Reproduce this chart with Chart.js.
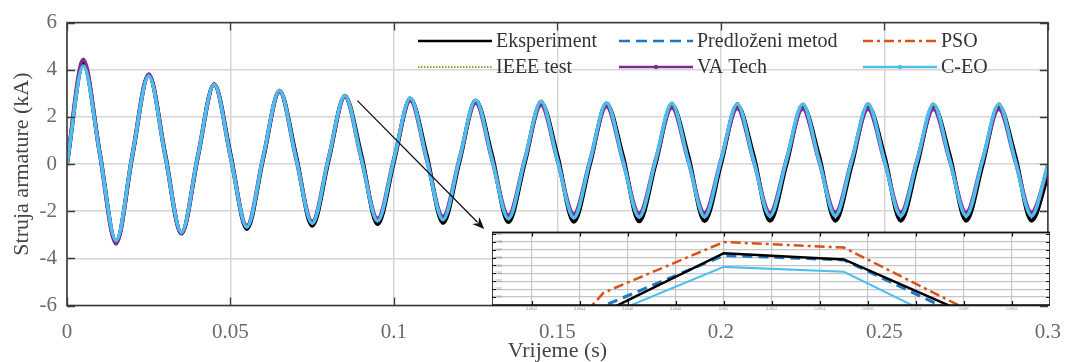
<!DOCTYPE html>
<html>
<head>
<meta charset="utf-8">
<script src="https://cdn.jsdelivr.net/npm/chart.js@4/dist/chart.umd.min.js"></script>
<style>
  html, body { margin: 0; padding: 0; background: #fff; }
  #wrap { position: relative; width: 1075px; height: 362px; }
  #main { position: absolute; left: 0; top: 0; }
  #inset { position: absolute; left: 492px; top: 227px; }
</style>
</head>
<body>
<div id="wrap">
  <canvas id="main" width="1075" height="362"></canvas>
  <canvas id="inset" width="558" height="87"></canvas>
</div>
<script>
// vrijeme (s) - uzorci na svakih cetvrt periode
const vrijeme = [0, 0.005, 0.01, 0.015, 0.02, 0.025, 0.03, 0.035, 0.04, 0.045, 0.05, 0.055, 0.06, 0.065, 0.07, 0.075,
  0.08, 0.085, 0.09, 0.095, 0.1, 0.105, 0.11, 0.115, 0.12, 0.125, 0.13, 0.135, 0.14, 0.145, 0.15, 0.155, 0.16, 0.165,
  0.17, 0.175, 0.18, 0.185, 0.19, 0.195, 0.2, 0.205, 0.21, 0.215, 0.22, 0.225, 0.23, 0.235, 0.24, 0.245, 0.25, 0.255,
  0.26, 0.265, 0.27, 0.275, 0.28, 0.285, 0.29, 0.295, 0.3];

// struja armature (kA)
const eksperiment = [0, 4.25, 0.50, -3.30, 0.35, 3.78, 0.45, -2.95, 0.28, 3.37, 0.42, -2.75, 0.22, 3.10, 0.40, -2.62,
  0.15, 2.88, 0.40, -2.55, 0.10, 2.76, 0.38, -2.50, 0.08, 2.68, 0.37, -2.47, 0.05, 2.60, 0.36, -2.45, 0.02, 2.55,
  0.36, -2.43, 0.0, 2.50, 0.36, -2.42, -0.02, 2.48, 0.36, -2.41, -0.03, 2.46, 0.36, -2.40, -0.04, 2.45, 0.36, -2.40,
  -0.05, 2.45, 0.36, -2.40, -0.05, 2.45, 0.36, -2.40, -0.50];
const predlozeni = [0, 4.22, 0.48, -3.28, 0.36, 3.76, 0.43, -2.93, 0.30, 3.36, 0.40, -2.73, 0.24, 3.10, 0.38, -2.60,
  0.17, 2.87, 0.38, -2.52, 0.12, 2.75, 0.36, -2.47, 0.10, 2.67, 0.35, -2.44, 0.07, 2.59, 0.34, -2.42, 0.05, 2.54,
  0.34, -2.40, 0.03, 2.50, 0.34, -2.39, 0.02, 2.47, 0.34, -2.38, 0.01, 2.45, 0.34, -2.37, 0.0, 2.44, 0.34, -2.37,
  0.0, 2.44, 0.34, -2.37, 0.0, 2.44, 0.34, -2.37, -0.40];
const pso = [0, 4.20, 0.48, -3.22, 0.42, 3.77, 0.40, -2.88, 0.35, 3.40, 0.34, -2.66, 0.32, 3.15, 0.30, -2.50,
  0.27, 2.93, 0.26, -2.40, 0.24, 2.83, 0.23, -2.34, 0.22, 2.75, 0.21, -2.30, 0.20, 2.68, 0.19, -2.26, 0.18, 2.63,
  0.18, -2.23, 0.17, 2.60, 0.17, -2.21, 0.17, 2.58, 0.17, -2.19, 0.17, 2.57, 0.17, -2.18, 0.17, 2.57, 0.17, -2.18,
  0.17, 2.57, 0.17, -2.18, 0.17, 2.57, 0.17, -2.18, 0.05];
const ieee = [0, 4.18, 0.45, -3.25, 0.40, 3.75, 0.38, -2.91, 0.33, 3.36, 0.32, -2.69, 0.30, 3.11, 0.28, -2.53,
  0.25, 2.89, 0.24, -2.43, 0.22, 2.79, 0.21, -2.37, 0.20, 2.71, 0.19, -2.33, 0.18, 2.64, 0.17, -2.29, 0.16, 2.59,
  0.16, -2.26, 0.15, 2.56, 0.15, -2.24, 0.15, 2.54, 0.15, -2.22, 0.15, 2.53, 0.15, -2.21, 0.15, 2.53, 0.15, -2.21,
  0.15, 2.53, 0.15, -2.21, 0.15, 2.53, 0.15, -2.21, 0.0];
const vaTech = [0, 4.42, 0.45, -3.37, 0.40, 3.80, 0.38, -2.92, 0.33, 3.38, 0.32, -2.62, 0.30, 3.08, 0.28, -2.45,
  0.25, 2.85, 0.24, -2.32, 0.22, 2.70, 0.21, -2.24, 0.20, 2.60, 0.19, -2.18, 0.18, 2.50, 0.17, -2.13, 0.16, 2.45,
  0.16, -2.10, 0.15, 2.40, 0.15, -2.08, 0.15, 2.37, 0.15, -2.07, 0.15, 2.35, 0.15, -2.06, 0.15, 2.33, 0.15, -2.06,
  0.15, 2.33, 0.15, -2.06, 0.15, 2.33, 0.15, -2.06, -0.20];
const ceo = [0, 4.16, 0.45, -3.24, 0.40, 3.74, 0.38, -2.90, 0.33, 3.37, 0.32, -2.68, 0.30, 3.12, 0.28, -2.52,
  0.25, 2.90, 0.24, -2.42, 0.22, 2.80, 0.21, -2.36, 0.20, 2.72, 0.19, -2.32, 0.18, 2.65, 0.17, -2.28, 0.16, 2.60,
  0.16, -2.25, 0.15, 2.57, 0.15, -2.23, 0.15, 2.55, 0.15, -2.21, 0.15, 2.54, 0.15, -2.20, 0.15, 2.54, 0.15, -2.20,
  0.15, 2.54, 0.15, -2.20, 0.15, 2.54, 0.15, -2.20, 0.0];

const xTicks = [0, 0.05, 0.1, 0.15, 0.2, 0.25, 0.3];
const xTickLabels = ['0', '0.05', '0.1', '0.15', '0.2', '0.25', '0.3'];
const yTicks = [-6, -4, -2, 0, 2, 4, 6];
const yTickLabels = ['-6', '-4', '-2', '0', '2', '4', '6'];

// uvecani prikaz oko vrha na t = 0.085 s
const insetVrijeme = [0.0840, 0.0845, 0.0850, 0.0855, 0.0860, 0.0865];
const insetEksperiment = [2.70, 2.791, 2.8655, 2.8576, 2.791, 2.70];
const insetPredlozeni = [2.71, 2.799, 2.8627, 2.857, 2.785, 2.69];
const insetPso = [2.65, 2.8156, 2.8796, 2.8726, 2.7962, 2.70];
const insetCeo = [2.69, 2.7855, 2.8482, 2.842, 2.7676, 2.68];
const insetXTicks = [0.0842, 0.0844, 0.0846, 0.0848, 0.0850, 0.0852, 0.0854, 0.0856, 0.0858, 0.0860, 0.0862];
const insetXLabels = ['0.0842', '0.0844', '0.0846', '0.0848', '0.085', '0.0852', '0.0854', '0.0856', '0.0858', '0.086', '0.0862'];
const insetYTicks = [2.81, 2.82, 2.83, 2.84, 2.85, 2.86, 2.87, 2.88, 2.89];
const insetYLabels = ['2.81', '2.82', '2.83', '2.84', '2.85', '2.86', '2.87', '2.88', '2.89'];

const SERIF = "'Liberation Serif', 'DejaVu Serif', serif";
const boje = { eksp: '#000000', pred: '#1f77c4', pso: '#d95319', ieee: '#77ac30', va: '#7e2f8e', ceo: '#4dbeee' };

const toPts = (xs, ys) => xs.map((x, i) => ({ x, y: ys[i] }));

// okvir s unutarnjim crticama (MATLAB stil)
const okvir = {
  id: 'okvir',
  afterDraw(chart, args, o) {
    const { ctx, chartArea: a, scales: { x, y } } = chart;
    ctx.save();
    ctx.strokeStyle = o.color;
    ctx.lineWidth = o.tickWidth;
    ctx.beginPath();
    x.ticks.forEach(t => {
      const p = Math.round(x.getPixelForValue(t.value)) + 0.5;
      ctx.moveTo(p, a.bottom); ctx.lineTo(p, a.bottom - o.len);
      ctx.moveTo(p, a.top); ctx.lineTo(p, a.top + o.len);
    });
    y.ticks.forEach(t => {
      const p = Math.round(y.getPixelForValue(t.value)) + 0.5;
      ctx.moveTo(a.left, p); ctx.lineTo(a.left + o.len, p);
      ctx.moveTo(a.right, p); ctx.lineTo(a.right - o.len, p);
    });
    ctx.stroke();
    ctx.lineWidth = o.width;
    ctx.strokeRect(a.left, a.top, a.right - a.left, a.bottom - a.top);
    ctx.restore();
  }
};

const bijelaPozadina = {
  id: 'bijelaPozadina',
  beforeDraw(chart) {
    const { ctx, chartArea: a } = chart;
    ctx.save();
    ctx.fillStyle = '#fff';
    ctx.fillRect(a.left, a.top, a.right - a.left, a.bottom - a.top);
    ctx.restore();
  }
};

// legenda unutar grafa, 2 reda x 3 stupca
const legendaPlugin = {
  id: 'legendaUnutra',
  afterDraw(chart) {
    const { ctx } = chart;
    const stupci = [418, 619, 863], redovi = [41, 67], duz = 74;
    ctx.save();
    ctx.font = '20px ' + SERIF;
    ctx.textBaseline = 'middle';
    chart.data.datasets.forEach((ds, i) => {
      const x0 = stupci[i % 3], y0 = redovi[Math.floor(i / 3)];
      ctx.strokeStyle = ds.borderColor;
      ctx.lineWidth = ds.legendWidth || 2.5;
      ctx.setLineDash(ds.borderDash || []);
      ctx.beginPath(); ctx.moveTo(x0, y0); ctx.lineTo(x0 + duz, y0); ctx.stroke();
      ctx.setLineDash([]);
      if (ds.legendDot) {
        ctx.fillStyle = ds.borderColor;
        ctx.beginPath(); ctx.arc(x0 + duz / 2, y0, 2.2, 0, Math.PI * 2); ctx.fill();
      }
      ctx.fillStyle = '#333';
      ctx.fillText(ds.label, x0 + duz + 4, y0 + 1);
    });
    ctx.restore();
  }
};

// strelica od vrha do uvecanog prikaza
const strelicaOd = { x: 0.0888, y: 2.69 }, strelicaDo = { x: 0.1276, y: -2.76 };
const strelicaPlugin = {
  id: 'strelica',
  afterDraw(chart) {
    const { ctx, scales: { x, y } } = chart;
    const x1 = x.getPixelForValue(strelicaOd.x), y1 = y.getPixelForValue(strelicaOd.y);
    const x2 = x.getPixelForValue(strelicaDo.x), y2 = y.getPixelForValue(strelicaDo.y);
    const ang = Math.atan2(y2 - y1, x2 - x1), L = 12, W = 5;
    ctx.save();
    ctx.strokeStyle = '#111'; ctx.fillStyle = '#111'; ctx.lineWidth = 1.3;
    ctx.beginPath(); ctx.moveTo(x1, y1); ctx.lineTo(x2 - L * Math.cos(ang) * 0.8, y2 - L * Math.sin(ang) * 0.8); ctx.stroke();
    ctx.beginPath();
    ctx.moveTo(x2, y2);
    ctx.lineTo(x2 - L * Math.cos(ang) + W * Math.sin(ang), y2 - L * Math.sin(ang) - W * Math.cos(ang));
    ctx.lineTo(x2 - L * Math.cos(ang) * 0.7, y2 - L * Math.sin(ang) * 0.7);
    ctx.lineTo(x2 - L * Math.cos(ang) - W * Math.sin(ang), y2 - L * Math.sin(ang) + W * Math.cos(ang));
    ctx.closePath(); ctx.fill();
    ctx.restore();
  }
};

const linija = (label, data, color, extra) => Object.assign({
  label, data: toPts(vrijeme, data), borderColor: color, backgroundColor: color,
  pointRadius: 0, cubicInterpolationMode: 'monotone', fill: false
}, extra);

new Chart(document.getElementById('main'), {
  type: 'line',
  data: {
    datasets: [
      linija('Eksperiment', eksperiment, boje.eksp, { borderWidth: 4, order: 2, legendWidth: 2.5 }),
      linija('Predloženi metod', predlozeni, boje.pred, { borderWidth: 3, borderDash: [11, 6], order: 3 }),
      linija('PSO', pso, boje.pso, { borderWidth: 2.5, borderDash: [10, 4, 3, 4], order: 5 }),
      linija('IEEE test', ieee, boje.ieee, { borderWidth: 2.5, borderDash: [1.5, 1.5], order: 4, legendWidth: 2 }),
      linija('VA Tech', vaTech, boje.va, { borderWidth: 4, order: 1, pointRadius: 2, pointBorderWidth: 0, legendDot: true }),
      linija('C-EO', ceo, boje.ceo, { borderWidth: 3.5, order: 0, legendDot: true })
    ]
  },
  options: {
    responsive: false,
    animation: false,
    devicePixelRatio: 1,
    layout: { padding: { top: 19, right: 17, left: 0, bottom: 0 } },
    plugins: {
      legend: { display: false },
      tooltip: { enabled: false },
      okvir: { color: '#3a3a3a', width: 1.6, tickWidth: 1.3, len: 8 }
    },
    scales: {
      x: {
        type: 'linear', min: 0, max: 0.3,
        afterBuildTicks: a => { a.ticks = xTicks.map(v => ({ value: v })); },
        afterFit: a => { a.height = 56.5; },
        grid: { color: '#d6d6d6', lineWidth: 1.5, drawTicks: false },
        border: { display: false },
        ticks: { color: '#6a6a6a', font: { family: SERIF, size: 21 }, padding: 14, maxRotation: 0, autoSkip: false,
          callback: (v, i) => xTickLabels[i] },
        title: { display: true, text: 'Vrijeme (s)', color: '#444', font: { family: SERIF, size: 22 }, padding: { top: 0, bottom: -2 } }
      },
      y: {
        min: -6, max: 6,
        afterBuildTicks: a => { a.ticks = yTicks.map(v => ({ value: v })); },
        afterFit: a => { a.width = 67; },
        grid: { color: '#d6d6d6', lineWidth: 1.5, drawTicks: false },
        border: { display: false },
        ticks: { color: '#6a6a6a', font: { family: SERIF, size: 21 }, padding: 10,
          callback: (v, i) => yTickLabels[i] },
        title: { display: true, text: 'Struja armature (kA)', color: '#444', font: { family: SERIF, size: 22 }, padding: { top: 9, bottom: 0 } }
      }
    }
  },
  plugins: [okvir, legendaPlugin, strelicaPlugin]
});

const insetLinija = (label, data, color, extra) => Object.assign({
  label, data: toPts(insetVrijeme, data), borderColor: color, pointRadius: 0, tension: 0, fill: false
}, extra);

new Chart(document.getElementById('inset'), {
  type: 'line',
  data: {
    datasets: [
      insetLinija('Eksperiment', insetEksperiment, boje.eksp, { borderWidth: 2.5, order: 1 }),
      insetLinija('Predloženi metod', insetPredlozeni, boje.pred, { borderWidth: 3, borderDash: [10, 6], order: 2 }),
      insetLinija('PSO', insetPso, boje.pso, { borderWidth: 2.5, borderDash: [10, 4, 3, 4], order: 3 }),
      insetLinija('C-EO', insetCeo, boje.ceo, { borderWidth: 2, order: 0 })
    ]
  },
  options: {
    responsive: false,
    animation: false,
    devicePixelRatio: 1,
    layout: { padding: 0 },
    plugins: {
      legend: { display: false },
      tooltip: { enabled: false },
      okvir: { color: '#111', width: 1.6, tickWidth: 1.2, len: 4 }
    },
    scales: {
      x: {
        type: 'linear', min: 0.084035, max: 0.086358,
        afterBuildTicks: a => { a.ticks = insetXTicks.map(v => ({ value: v })); },
        afterFit: a => { a.height = 9; },
        grid: { color: '#c4c4c4', lineWidth: 1.2, drawTicks: false },
        border: { display: false },
        ticks: { color: '#888', font: { family: SERIF, size: 4 }, padding: 2, maxRotation: 0, autoSkip: false,
          callback: (v, i) => insetXLabels[i] }
      },
      y: {
        min: 2.80, max: 2.8918,
        afterBuildTicks: a => { a.ticks = insetYTicks.map(v => ({ value: v })); },
        afterFit: a => { a.width = 0; },
        grid: { color: '#c4c4c4', lineWidth: 1.2, drawTicks: false },
        border: { display: false },
        ticks: { mirror: true, color: '#888', font: { family: SERIF, size: 4 }, padding: 3,
          callback: (v, i) => insetYLabels[i] }
      }
    }
  },
  plugins: [bijelaPozadina, okvir]
});
</script>
</body>
</html>
